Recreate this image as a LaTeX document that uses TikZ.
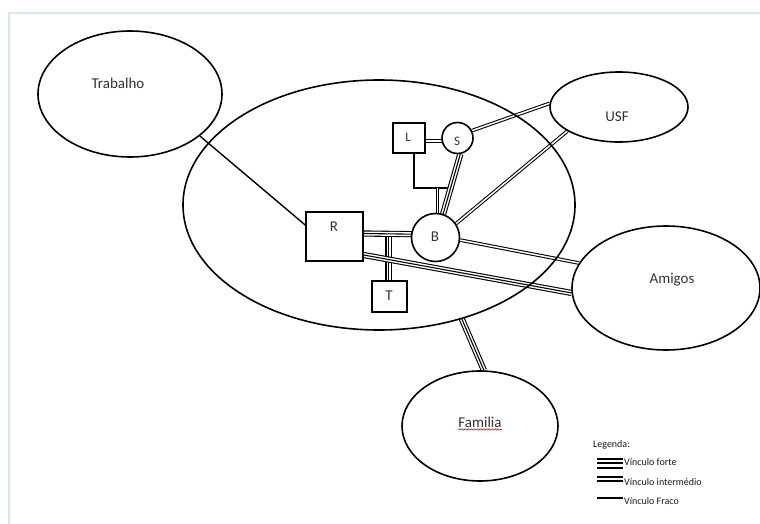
\documentclass[tikz,border=0pt]{standalone}
\usepackage{fontspec}
\setmainfont{Carlito}
\usetikzlibrary{shapes.geometric,backgrounds,calc,decorations.pathmorphing}
\definecolor{framec}{RGB}{214,230,245}
\begin{document}
\begin{tikzpicture}[x=1pt,y=-1pt,
  shp/.style={draw=black, line width=1.6pt, inner sep=0pt, fill=white},
  ell/.style={shp, ellipse},
  box/.style={shp, rectangle},
  circ/.style={shp, circle},
  lbl/.style={font=\fontsize{15}{18}\selectfont, text=black!80, inner sep=0pt},
  legt/.style={font=\fontsize{10}{12}\selectfont, text=black!90, inner sep=0pt, anchor=west},
  weak/.style={draw=black, line width=1.4pt},
  inter/.style={draw=black, line width=1.05pt, double=white, double distance=1.5pt},
  strong/.style={draw=black, line width=6.2pt, postaction={draw=white, line width=4pt}, postaction={draw=black, line width=1.1pt}},
  legline/.style={draw=black, line width=1.8pt},
]
\useasboundingbox (0,0) rectangle (760,524);

% ellipses
\node[ell, minimum width=184pt, minimum height=126pt] (trab) at (130,94) {};
\node[ell, fill=none, minimum width=392pt, minimum height=250pt] (home) at (379,205) {};
\node[ell, minimum width=138pt, minimum height=70pt] (usf) at (619,107) {};
\node[ell, minimum width=188pt, minimum height=124pt] (amigos) at (666,288) {};
\node[ell, minimum width=156pt, minimum height=110pt] (fam) at (480,426) {};

% small nodes
\node[box, minimum width=57pt, minimum height=49pt] (R) at (334.5,236.5) {};
\node[circ, minimum size=48pt] (B) at (435.5,237.5) {};
\node[box, minimum width=32pt, minimum height=30pt] (L) at (409,138) {};
\node[circ, minimum size=31pt] (S) at (457.5,138) {};
\node[box, minimum width=35pt, minimum height=31pt] (T) at (389.5,296.5) {};

% labels
\node[lbl] (trabt) at (118,83) {Trabalho};
\node[lbl] (usft) at (617,117) {USF};
\node[lbl] (amigt) at (672,280) {Amigos};
\node[lbl] (famt) at (480,422) {Familia};
\node[lbl] (Rt) at (334,227) {R};
\node[lbl] (Bt) at (435,237) {B};
\node[lbl, font=\fontsize{13}{15}\selectfont] (Lt) at (408,137) {L};
\node[lbl, font=\fontsize{13}{15}\selectfont] (St) at (457,141) {S};
\node[lbl] (Tt) at (389,296) {T};
\draw[red, line width=0.6pt, decorate, decoration={snake, amplitude=0.7pt, segment length=3pt}]
  ([yshift=-2pt]famt.south west) -- ([yshift=-2pt]famt.south east);

% connectors
\begin{scope}[on background layer]
\fill[white] (0,0) rectangle (760,524);
\draw[framec, line width=1.2pt] (9,524) -- (9,13) -- (760,13);
\draw[weak] (trab.-31) -- ([yshift=11.5pt]R.west);
\draw[inter] ([yshift=-3pt]L.east) -- ([yshift=-3pt]S.center);
\coordinate (bk1) at ([xshift=5pt]L.south);
\draw[weak] (bk1) -- ++(0,34) coordinate (bk2) -- ++(40,0) coordinate (bk3);
\coordinate (bkm) at ($(bk2)!0.59!(bk3)$);
\draw[inter] (bkm) -- (bkm |- B.center);
\draw[strong] (S.-80) -- (B.72);
\draw[inter] (S.27) -- (usf.177);
\draw[inter] (B.34) -- (usf.205);
\draw[inter] (B.-6) -- (amigos.164);
\draw[strong] ([xshift=-1pt]T.north) -- ([xshift=-1pt]T.north |- R.center);
\draw[strong] ([yshift=3pt]R.east) -- ([yshift=3pt]B.center);
\draw[strong] ([yshift=-18.5pt]R.east) -- (amigos.183);
\draw[strong] (home.-54.7) -- (fam.86.8);
\end{scope}

% legend
\node[legt] (leg) at (593,445) {Legenda:};
\node[legt] (lf) at (624,462) {Vínculo forte};
\node[legt] (li) at (624,482) {Vínculo intermédio};
\node[legt] (lw) at (624,501) {Vínculo Fraco};
\draw[legline] ($(lf.west)+(-27,-3)$) -- ++(26,0);
\draw[legline] ($(lf.west)+(-27,1.3)$) -- ++(26,0);
\draw[legline] ($(lf.west)+(-27,5.7)$) -- ++(26,0);
\draw[legline] ($(li.west)+(-27,-4.7)$) -- ++(26,0);
\draw[legline] ($(li.west)+(-27,-1)$) -- ++(26,0);
\draw[legline] ($(lw.west)+(-27,-2.7)$) -- ++(26,0);
\end{tikzpicture}
\end{document}
